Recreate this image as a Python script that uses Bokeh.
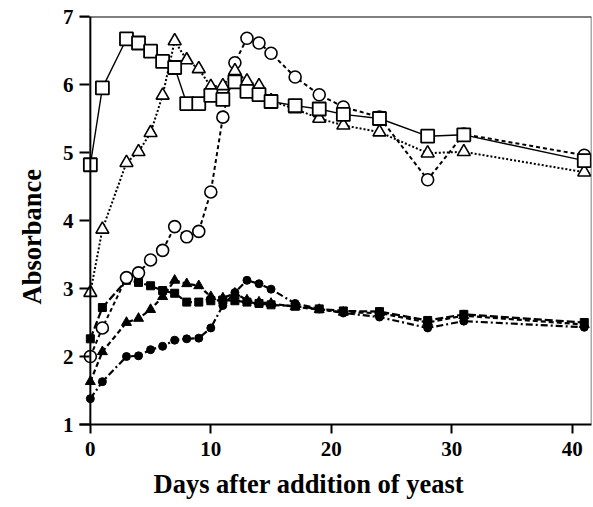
from bokeh.plotting import figure
from bokeh.models import Range1d, FixedTicker, Span, Title
from bokeh.embed import file_html
from bokeh.resources import INLINE

days = [0, 1, 3, 4, 5, 6, 7, 8, 9, 10, 11, 12, 13, 14, 15, 17, 19, 21, 24, 28, 31, 41]

open_squares = [4.82, 5.95, 6.67, 6.61, 6.49, 6.34, 6.25, 5.72, 5.72, 5.84, 5.78, 6.04,
                5.90, 5.85, 5.75, 5.69, 5.64, 5.56, 5.50, 5.24, 5.26, 4.88]
open_triangles = [2.94, 3.87, 4.85, 5.01, 5.29, 5.84, 6.64, 6.36, 6.23, 5.97, 5.98, 6.20,
                  6.05, 5.98, 5.76, 5.64, 5.50, 5.40, 5.30, 4.99, 5.01, 4.71]
open_circles = [2.00, 2.42, 3.16, 3.23, 3.42, 3.56, 3.91, 3.76, 3.84, 4.42, 5.52, 6.32,
                6.68, 6.61, 6.46, 6.11, 5.85, 5.67, 5.52, 4.60, 5.27, 4.96]
filled_squares = [2.26, 2.72, 3.12, 3.09, 3.04, 2.97, 2.93, 2.80, 2.80, 2.82, 2.83, 2.82,
                  2.80, 2.78, 2.76, 2.74, 2.70, 2.67, 2.66, 2.53, 2.62, 2.50]
filled_triangles = [1.63, 2.07, 2.50, 2.56, 2.69, 2.88, 3.12, 3.07, 3.04, 2.88, 2.86, 2.93,
                    2.83, 2.80, 2.78, 2.73, 2.69, 2.65, 2.64, 2.50, 2.60, 2.47]
filled_circles = [1.38, 1.63, 2.00, 2.01, 2.10, 2.15, 2.24, 2.26, 2.27, 2.42, 2.75, 2.94,
                  3.12, 3.07, 2.99, 2.78, 2.70, 2.64, 2.58, 2.42, 2.52, 2.43]

x_ticks = [0, 10, 20, 30, 40]
y_ticks = [1, 2, 3, 4, 5, 6, 7]
x_label = "Days after addition of yeast"
y_label = "Absorbance"

FONT = "Liberation Serif"

x_start, x_end = -0.9, 41.6
y_start, y_end = 1, 7

p = figure(width=593, height=507, x_range=Range1d(x_start, x_end), y_range=Range1d(y_start, y_end),
           output_backend="svg", toolbar_location=None,
           min_border_left=79, min_border_right=2, min_border_top=16, min_border_bottom=82)
p.outline_line_color = None
p.grid.visible = False
p.background_fill_color = "white"
p.border_fill_color = "white"

# x axis
xa = p.xaxis[0]
xa.ticker = FixedTicker(ticks=x_ticks)
xa.axis_line_width = 2
xa.axis_line_color = "black"
xa.major_tick_in = 0
xa.major_tick_out = 9
xa.major_tick_line_width = 2
xa.minor_tick_line_color = None
xa.major_label_text_font = FONT
xa.major_label_text_font_style = "bold"
xa.major_label_text_font_size = "21px"
xa.major_label_text_color = "black"
xa.major_label_standoff = 8

# y axis
ya = p.yaxis[0]
ya.ticker = FixedTicker(ticks=y_ticks)
ya.axis_line_color = None
ya.major_tick_in = 10
ya.major_tick_out = 0
ya.major_tick_line_width = 2
ya.minor_tick_line_color = None
ya.major_label_text_font = FONT
ya.major_label_text_font_style = "bold"
ya.major_label_text_font_size = "21px"
ya.major_label_text_color = "black"
ya.major_label_standoff = 6

# axis titles as side titles (so they can sit off-centre like the reference)
p.add_layout(Title(text=x_label, align="left", offset=74, standoff=17, text_font=FONT,
                   text_font_style="bold", text_font_size="26.5px", text_color="black"), "below")
p.add_layout(Title(text=y_label, align="left", offset=120, standoff=22, vertical_align="top",
                   text_font=FONT, text_font_style="bold", text_font_size="26.5px",
                   text_color="black"), "left")

# frame lines: y axis at day 0, top and right edges
p.add_layout(Span(location=0, dimension="height", line_color="black", line_width=2))
p.add_layout(Span(location=y_end, dimension="width", line_color="black", line_width=2))
p.add_layout(Span(location=x_end, dimension="height", line_color="#555555", line_width=1.5))

# filled series (lower group)
p.line(days, filled_circles, line_color="black", line_width=2.2, line_dash="7 3 2 3")
p.scatter(days, filled_circles, marker="circle", size=8, fill_color="black", line_color="black")
p.line(days, filled_triangles, line_color="black", line_width=2.2, line_dash="5 3")
p.scatter(days, filled_triangles, marker="triangle", size=10, fill_color="black", line_color="black")
p.line(days, filled_squares, line_color="black", line_width=2.2, line_dash="8 3")
p.scatter(days, filled_squares, marker="square", size=8, fill_color="black", line_color="black")

# open series (upper group)
p.line(days, open_circles, line_color="black", line_width=2, line_dash="4 3")
p.scatter(days, open_circles, marker="circle", size=12, fill_color="white", line_color="black", line_width=1.6)
p.line(days, open_triangles, line_color="black", line_width=2, line_dash="2 2")
p.scatter(days, open_triangles, marker="triangle", size=13, fill_color="white", line_color="black", line_width=1.6)
p.line(days, open_squares, line_color="black", line_width=1.4)
p.scatter(days, open_squares, marker="square", size=13, fill_color="white", line_color="black", line_width=1.8)

open("out.html", "w").write(file_html(p, INLINE))
